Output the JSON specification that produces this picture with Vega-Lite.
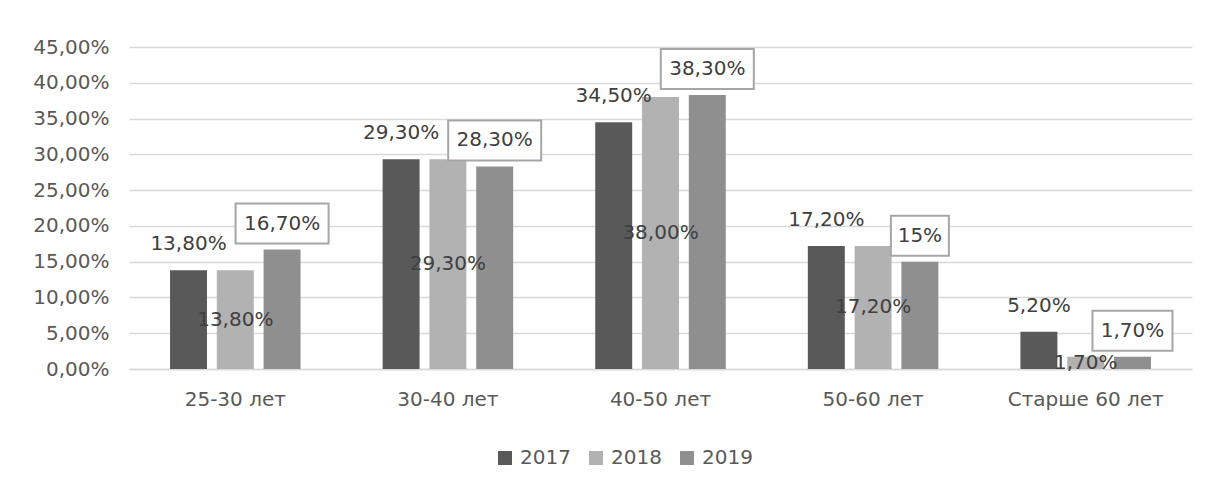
{
  "$schema": "https://vega.github.io/schema/vega-lite/v6.json",
  "width": 1063,
  "height": 322,
  "autosize": {"type": "none"},
  "padding": {"left": 129, "top": 47, "right": 18, "bottom": 122},
  "background": "white",
  "config": {
    "view": {"stroke": null},
    "font": "DejaVu Sans",
    "text": {"font": "DejaVu Sans"}
  },
  "data": {
    "values": [
      {"group": "25-30 лет", "year": "2017", "value": 0.138, "label": "13,80%"},
      {"group": "25-30 лет", "year": "2018", "value": 0.138, "label": "13,80%"},
      {"group": "25-30 лет", "year": "2019", "value": 0.167, "label": "16,70%"},
      {"group": "30-40 лет", "year": "2017", "value": 0.293, "label": "29,30%"},
      {"group": "30-40 лет", "year": "2018", "value": 0.293, "label": "29,30%"},
      {"group": "30-40 лет", "year": "2019", "value": 0.283, "label": "28,30%"},
      {"group": "40-50 лет", "year": "2017", "value": 0.345, "label": "34,50%"},
      {"group": "40-50 лет", "year": "2018", "value": 0.380, "label": "38,00%"},
      {"group": "40-50 лет", "year": "2019", "value": 0.383, "label": "38,30%"},
      {"group": "50-60 лет", "year": "2017", "value": 0.172, "label": "17,20%"},
      {"group": "50-60 лет", "year": "2018", "value": 0.172, "label": "17,20%"},
      {"group": "50-60 лет", "year": "2019", "value": 0.150, "label": "15%"},
      {"group": "Старше 60 лет", "year": "2017", "value": 0.052, "label": "5,20%"},
      {"group": "Старше 60 лет", "year": "2018", "value": 0.017, "label": "1,70%"},
      {"group": "Старше 60 лет", "year": "2019", "value": 0.017, "label": "1,70%"}
    ]
  },
  "encoding": {
    "x": {
      "field": "group",
      "type": "nominal",
      "sort": ["25-30 лет", "30-40 лет", "40-50 лет", "50-60 лет", "Старше 60 лет"],
      "scale": {"paddingInner": 0.386, "paddingOuter": 0.193},
      "axis": {
        "title": null,
        "labelAngle": 0,
        "labelFontSize": 20,
        "labelColor": "#595959",
        "labelPadding": 20,
        "ticks": false,
        "domainColor": "#d9d9d9",
        "domainWidth": 1.5
      }
    },
    "xOffset": {
      "field": "year",
      "type": "nominal",
      "sort": ["2017", "2018", "2019"],
      "scale": {"paddingInner": 0.21, "paddingOuter": 0}
    }
  },
  "layer": [
    {
      "mark": {"type": "bar"},
      "encoding": {
        "y": {
          "field": "value",
          "type": "quantitative",
          "scale": {"domain": [0, 0.45], "nice": false},
          "axis": {
            "title": null,
            "values": [0, 0.05, 0.1, 0.15, 0.2, 0.25, 0.3, 0.35, 0.4, 0.45],
            "labelExpr": "replace(format(datum.value, '.2%'), '.', ',')",
            "labelFontSize": 20,
            "labelColor": "#595959",
            "labelPadding": 20,
            "ticks": false,
            "domain": false,
            "gridColor": "#d9d9d9",
            "gridWidth": 1.5
          }
        },
        "color": {
          "field": "year",
          "type": "nominal",
          "scale": {"domain": ["2017", "2018", "2019"], "range": ["#595959", "#b2b2b2", "#8f8f8f"]},
          "legend": {
            "title": null,
            "orient": "none",
            "direction": "horizontal",
            "legendX": 366,
            "legendY": 401,
            "symbolType": "square",
            "symbolSize": 196,
            "symbolStrokeWidth": 0,
            "labelFontSize": 20,
            "labelColor": "#595959",
            "labelOffset": 5,
            "columnPadding": 15
          }
        }
      }
    },
    {
      "transform": [{"filter": "datum.year == '2017'"}],
      "mark": {"type": "text", "fontSize": 20, "color": "#404040", "baseline": "middle", "yOffset": -26},
      "encoding": {
        "y": {"field": "value", "type": "quantitative", "scale": {"domain": [0, 0.45], "nice": false}, "axis": null},
        "text": {"field": "label"}
      }
    },
    {
      "transform": [{"filter": "datum.year == '2018'"}],
      "mark": {"type": "text", "fontSize": 20, "color": "#404040", "baseline": "middle"},
      "encoding": {
        "y": {"field": "value", "type": "quantitative", "scale": {"domain": [0, 0.9], "nice": false}, "axis": null},
        "text": {"field": "label"}
      }
    },
    {
      "transform": [{"filter": "datum.year == '2019' && length(datum.label) == 6"}],
      "mark": {"type": "point", "filled": true, "fill": "white", "fillOpacity": 1, "stroke": "#a6a6a6", "strokeWidth": 2, "opacity": 1, "size": 8649, "shape": "M-1,-0.43L1,-0.43L1,0.43L-1,0.43Z", "yOffset": -26},
      "encoding": {
        "y": {"field": "value", "type": "quantitative", "scale": {"domain": [0, 0.45], "nice": false}, "axis": null}
      }
    },
    {
      "transform": [{"filter": "datum.year == '2019' && length(datum.label) == 5"}],
      "mark": {"type": "point", "filled": true, "fill": "white", "fillOpacity": 1, "stroke": "#a6a6a6", "strokeWidth": 2, "opacity": 1, "size": 6400, "shape": "M-1,-0.5L1,-0.5L1,0.5L-1,0.5Z", "yOffset": -26},
      "encoding": {
        "y": {"field": "value", "type": "quantitative", "scale": {"domain": [0, 0.45], "nice": false}, "axis": null}
      }
    },
    {
      "transform": [{"filter": "datum.year == '2019' && length(datum.label) == 3"}],
      "mark": {"type": "point", "filled": true, "fill": "white", "fillOpacity": 1, "stroke": "#a6a6a6", "strokeWidth": 2, "opacity": 1, "size": 3364, "shape": "M-1,-0.69L1,-0.69L1,0.69L-1,0.69Z", "yOffset": -26},
      "encoding": {
        "y": {"field": "value", "type": "quantitative", "scale": {"domain": [0, 0.45], "nice": false}, "axis": null}
      }
    },
    {
      "transform": [{"filter": "datum.year == '2019'"}],
      "mark": {"type": "text", "fontSize": 20, "color": "#404040", "baseline": "middle", "yOffset": -26},
      "encoding": {
        "y": {"field": "value", "type": "quantitative", "scale": {"domain": [0, 0.45], "nice": false}, "axis": null},
        "text": {"field": "label"}
      }
    }
  ],
  "resolve": {"scale": {"y": "independent"}}
}
